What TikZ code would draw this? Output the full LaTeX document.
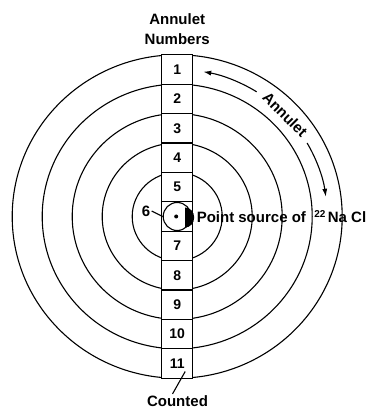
\documentclass[tikz,border=0pt]{standalone}
\usepackage{fontspec}
\setmainfont{Liberation Sans}
\usetikzlibrary{arrows.meta}

\begin{document}
\begin{tikzpicture}[x=1pt, y=1pt, line width=1.1pt,
    cell/.style={rectangle, draw, fill=white, minimum width=31pt, minimum height=29.4pt, inner sep=0pt},
    lbl/.style={font=\fontsize{15}{19.5}\selectfont\bfseries, inner sep=1pt},
    num/.style={font=\fontsize{14}{14}\selectfont\bfseries},
    annarrow/.style={-{Latex[length=8pt,width=5pt]}}]
  \useasboundingbox (-177.2,-195.5) rectangle (198.8,216.5);
  % annulets
  \draw (0,0) ellipse [x radius=165, y radius=161.7];
  \draw (0,0) ellipse [x radius=135, y radius=132.3];
  \draw (0,0) ellipse [x radius=105, y radius=102.9];
  \draw (0,0) ellipse [x radius=75, y radius=73.5];
  \draw (0,0) ellipse [x radius=45, y radius=44.1];
  % counted strip
  \node[cell, num] (b1) at (0, 147) {1};
  \node[cell, num] (b2) at (0, 117.6) {2};
  \node[cell, num] (b3) at (0, 88.2) {3};
  \node[cell, num] (b4) at (0, 58.8) {4};
  \node[cell, num] (b5) at (0, 29.4) {5};
  \node[cell] (b6) at (0, 0) {};
  \node[cell, num] (b7) at (0, -29.4) {7};
  \node[cell, num] (b8) at (0, -58.8) {8};
  \node[cell, num] (b9) at (0, -88.2) {9};
  \node[cell, num] (b10) at (0, -117.6) {10};
  \node[cell, num] (b11) at (0, -147) {11};
  % centre annulet with the source
  \node[circle, draw, minimum size=28pt, inner sep=0pt] (ring6) at (0,0) {};
  \node[circle, fill, minimum size=4pt, inner sep=0pt] (pt) at (-1,0) {};
  \fill (8,9) arc [start angle=90, end angle=-90, x radius=9, y radius=10] -- cycle;
  % labels
  \node[lbl, align=center] (title) at (0,187.2) {Annulet\\Numbers};
  \node[lbl] (lab6) at (-31.2,5.5) {6};
  \draw (lab6.east) -- (ring6.west);
  \node[lbl, anchor=base west, inner sep=0pt] (src) at (19,-6.5) {Point source of\ \ \raisebox{5pt}{\fontsize{10}{10}\selectfont 22}\,Na\ Cl};
  \node[lbl] (counted) at (0.3,-184.5) {Counted};
  \coordinate (cnt) at (8,-155);
  \draw ([xshift=-5pt]counted.north) -- (cnt);
  % annulet arrows
  \node[lbl, rotate=-45] (annlbl) at (44:150 and 147) {Annulet};
  \draw[annarrow] (58:150 and 147) arc [start angle=58, end angle=80, x radius=150, y radius=147];
  \draw[annarrow] (30:150 and 147) arc [start angle=30, end angle=7.7, x radius=150, y radius=147];
\end{tikzpicture}
\end{document}
